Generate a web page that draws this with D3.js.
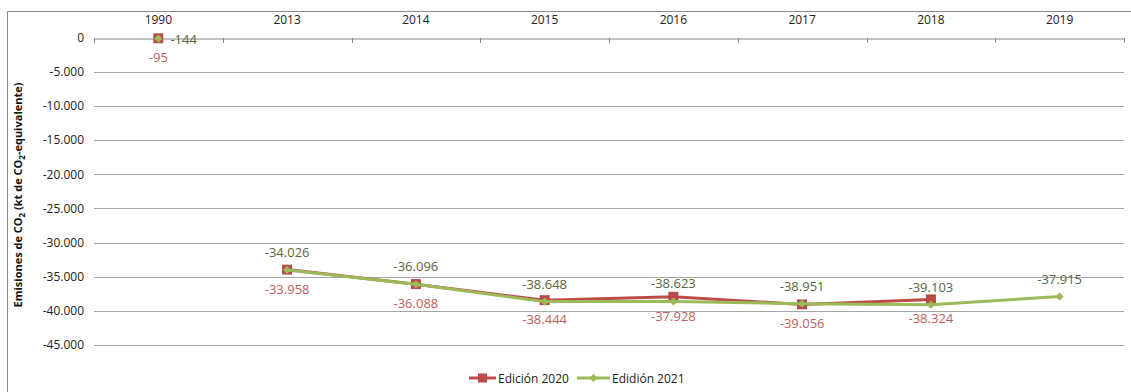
<!DOCTYPE html>
<html><head><meta charset="utf-8">
<script src="https://cdn.jsdelivr.net/npm/d3@7"></script>
<style>
body{margin:0;background:#fff;}
text{font-family:"Open Sans","Liberation Sans",sans-serif;}
</style></head>
<body><svg id="c" width="1131" height="392"></svg>
<script>
const categories = ["1990","2013","2014","2015","2016","2017","2018","2019"];
const ed2020 = [-95,-33958,-36088,-38444,-37928,-39056,-38324,null];
const ed2021 = [-144,-34026,-36096,-38648,-38623,-38951,-39103,-37915];
const yTicks = [0,-5000,-10000,-15000,-20000,-25000,-30000,-35000,-40000,-45000];
const seriesNames = ["Edición 2020","Edidión 2021"];

const red = "#be4b48", green = "#9bbb59";
const svg = d3.select("#c");
const L = 94, R = 1124, T = 37.7, B = 345;

// outer border
svg.append("path").attr("d","M7.5,392 V11.5 H1131").attr("fill","none").attr("stroke","#8c8c8c").attr("stroke-width",1);

const x = d3.scaleBand().domain(categories).range([L,R]);
const y = d3.scaleLinear().domain([-45000,0]).range([B,T]);
const fmt = v => d3.format(",")(v).replace(/,/g,".").replace("\u2212","-");

// gridlines
svg.append("g").selectAll("line").data(yTicks.filter(d=>d!==0)).join("line")
  .attr("x1",L).attr("x2",R).attr("y1",d=>Math.round(y(d))+0.5).attr("y2",d=>Math.round(y(d))+0.5)
  .attr("stroke","#a6a6a6").attr("stroke-width",1);

// y axis
const yAx = svg.append("g").attr("transform",`translate(${L},0)`)
  .call(d3.axisLeft(y).tickValues(yTicks).tickFormat(fmt).tickSize(0).tickPadding(10));
yAx.select(".domain").remove();
yAx.selectAll("text").attr("font-size",12).attr("fill","#222")
  .attr("font-family","'Open Sans','Liberation Sans',sans-serif");

// top category axis at 0
const xAx = svg.append("g").attr("transform",`translate(0,${Math.round(y(0))+0.5})`)
  .call(d3.axisBottom(x).tickSize(0).tickFormat(""));
xAx.select(".domain").attr("stroke","#868686");
const bounds = categories.map(c=>x(c)).concat([R]);
svg.append("g").selectAll("line").data(bounds).join("line")
  .attr("x1",d=>Math.round(d)+0.5).attr("x2",d=>Math.round(d)+0.5)
  .attr("y1",Math.round(y(0))).attr("y2",Math.round(y(0))+5)
  .attr("stroke","#868686");
svg.append("g").selectAll("text").data(categories).join("text")
  .attr("x",d=>x(d)+x.bandwidth()/2).attr("y",24)
  .attr("text-anchor","middle").attr("font-size",12).attr("fill","#222").text(d=>d);

// y axis title
const yt = svg.append("text").attr("transform","translate(22,195) rotate(-90)")
  .attr("text-anchor","middle").attr("font-size",11).attr("font-weight","bold").attr("fill","#111");
yt.append("tspan").text("Emisiones de CO");
yt.append("tspan").attr("font-size",8).attr("dy",3).text("2");
yt.append("tspan").attr("dy",-3).text(" (kt de CO");
yt.append("tspan").attr("font-size",8).attr("dy",3).text("2");
yt.append("tspan").attr("dy",-3).text("-equivalente)");

const cx = c => x(c)+x.bandwidth()/2;
// 1990 is a separate reference year: no connecting line to 2013
const line = d3.line().defined(d=>d.v!==null && d.c!=="1990").x(d=>cx(d.c)).y(d=>y(d.v));
const d20 = categories.map((c,i)=>({c,v:ed2020[i]}));
const d21 = categories.map((c,i)=>({c,v:ed2021[i]}));

svg.append("path").datum(d20).attr("d",line).attr("fill","none").attr("stroke",red).attr("stroke-width",3).attr("stroke-linejoin","round");
svg.append("g").selectAll("rect").data(d20.filter(d=>d.v!==null)).join("rect")
  .attr("x",d=>cx(d.c)-4.5).attr("y",d=>y(d.v)-4.5).attr("width",9).attr("height",9)
  .attr("fill",red).attr("stroke","#a0403c").attr("stroke-width",0.8);

svg.append("path").datum(d21).attr("d",line).attr("fill","none").attr("stroke",green).attr("stroke-width",3).attr("stroke-linejoin","round");
svg.append("g").selectAll("path").data(d21).join("path")
  .attr("d",d3.symbol(d3.symbolDiamond2,42)())
  .attr("transform",d=>`translate(${cx(d.c)},${y(d.v)})`)
  .attr("fill",green);

// labels
const lbl20 = "#c0605c", lbl21 = "#5b6440";
svg.append("g").selectAll("text").data(d20.filter(d=>d.v!==null)).join("text")
  .attr("x",d=>cx(d.c)).attr("y",d=>y(d.v)+24)
  .attr("text-anchor","middle").attr("font-size",13).attr("fill",lbl20).text(d=>fmt(d.v));
svg.append("g").selectAll("text").data(d21).join("text")
  .attr("x",(d,i)=>i===0?cx(d.c)+12:cx(d.c))
  .attr("y",(d,i)=>i===0?y(d.v)+5:y(d.v)-13)
  .attr("text-anchor",(d,i)=>i===0?"start":"middle")
  .attr("font-size",13).attr("fill",lbl21).text(d=>fmt(d.v));

// legend
const lg = svg.append("g").attr("transform","translate(0,378)");
lg.append("line").attr("x1",469).attr("x2",496).attr("y1",0).attr("y2",0).attr("stroke",red).attr("stroke-width",3);
lg.append("rect").attr("x",478).attr("y",-4.5).attr("width",9).attr("height",9).attr("fill",red);
lg.append("text").attr("x",498).attr("y",4.5).attr("font-size",12).attr("fill","#222").text(seriesNames[0]);
lg.append("line").attr("x1",577).attr("x2",610).attr("y1",0).attr("y2",0).attr("stroke",green).attr("stroke-width",3);
lg.append("path").attr("d",d3.symbol(d3.symbolDiamond2,42)()).attr("transform","translate(593.5,0)").attr("fill",green);
lg.append("text").attr("x",612).attr("y",4.5).attr("font-size",12).attr("fill","#222").text(seriesNames[1]);
</script></body></html>
